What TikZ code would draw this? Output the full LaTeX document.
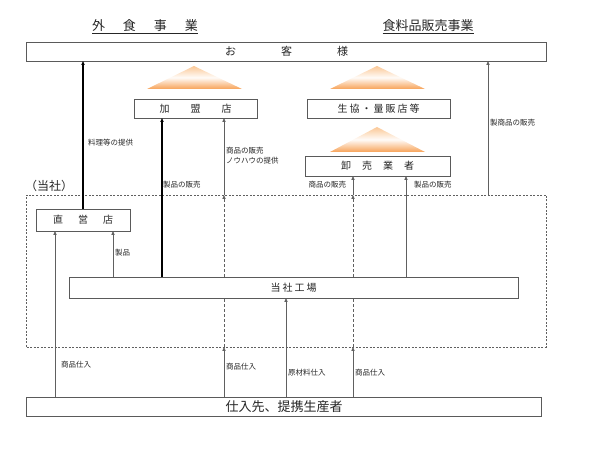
\documentclass[tikz,border=0pt]{standalone}
\usepackage{fontspec}
\setmainfont{Noto Sans CJK JP}
\usetikzlibrary{arrows.meta,shadings}
\definecolor{boxline}{HTML}{5A5A5A}
\definecolor{conn}{HTML}{606060}
\definecolor{tri}{HTML}{F7A257}
\definecolor{trilight}{HTML}{FBC896}
\begin{document}
\begin{tikzpicture}[x=1pt,y=-1pt,
  every node/.style={inner sep=0pt,outer sep=0pt,text=black!85},
  box/.style={draw=boxline,line width=0.9pt,fill=white,font=\fontsize{10}{12}\selectfont},
  lbl/.style={font=\fontsize{7.5}{10}\selectfont,anchor=west},
  tip/.style={-{Triangle[length=4pt,width=3.2pt]}},
  gline/.style={tip,draw=conn,line width=0.8pt},
  bline/.style={tip,draw=black,line width=1.2pt},
  dline/.style={tip,draw=conn,line width=0.8pt,dash pattern=on 3pt off 2pt},
  trishade/.style={top color=trilight,bottom color=tri,middle color=white!96!tri,draw=none}]
\useasboundingbox (0,0) rectangle (611,457);
% column coordinates
\coordinate (c1) at (55,0);
\coordinate (c2) at (113,0);
\coordinate (c3) at (162,0);
\coordinate (c4) at (224,0);
\coordinate (c5) at (286,0);
\coordinate (c6) at (353,0);
\coordinate (c7) at (406,0);
\coordinate (c8) at (488,0);
% titles
\node[font=\fontsize{13}{15}\selectfont] (t1) at (145,27) {\underline{外\hspace{18pt}食\hspace{18pt}事\hspace{18pt}業}};
\node[font=\fontsize{13}{15}\selectfont] (t2) at (428,27) {\underline{食料品販売事業}};
% company dotted region
\node[draw=conn,line width=0.8pt,dash pattern=on 2pt off 1.5pt,minimum width=519.5pt,minimum height=152pt] (tosha) at (286.25,271) {};
\node[font=\fontsize{12}{14}\selectfont,anchor=west] (toshalbl) at (25,186) {（当社）};
% triangles
\shade[trishade] (194,66) -- (242,89) -- (147,89) -- cycle;
\shade[trishade] (377,66) -- (425,89) -- (330,89) -- cycle;
\shade[trishade] (377,127) -- (425,152) -- (330,152) -- cycle;
% boxes
\node[box,minimum width=520pt,minimum height=19pt,font=\fontsize{11}{13}\selectfont] (okyaku) at (286.5,51.5) {お\hspace{45pt}客\hspace{45pt}様};
\node[box,minimum width=123pt,minimum height=19pt] (kamei) at (195.5,108.5) {加\hspace{21pt}盟\hspace{21pt}店};
\node[box,minimum width=143pt,minimum height=19pt] (seikyo) at (378.5,108.5) {生\hspace{2pt}協\hspace{2pt}・\hspace{2pt}量\hspace{2pt}販\hspace{2pt}店\hspace{2pt}等};
\node[box,minimum width=145pt,minimum height=20pt] (oroshi) at (377.5,166) {卸\hspace{11pt}売\hspace{11pt}業\hspace{11pt}者};
\node[box,minimum width=94pt,minimum height=22pt] (chokuei) at (83,220) {直\hspace{15pt}営\hspace{15pt}店};
% dashed connectors (drawn before factory box so it covers them)
\draw[dline] (tosha.south -| c4) -- (tosha.north -| c4);
\draw[dline] (tosha.south -| c6) -- (tosha.north -| c6);
\node[box,minimum width=449pt,minimum height=21pt] (kojo) at (293.5,287.5) {当\hspace{2pt}社\hspace{2pt}工\hspace{2pt}場};
\node[box,minimum width=515pt,minimum height=19pt,font=\fontsize{13}{15}\selectfont] (shiire) at (284,406.5) {仕入先、提携生産者};
% upward connectors
\draw[bline] (chokuei.north) -- (chokuei.north |- okyaku.south);
\draw[gline] (shiire.north -| c1) -- (chokuei.south -| c1);
\draw[gline] (kojo.north -| c2) -- (chokuei.south -| c2);
\draw[bline] (kojo.north -| c3) -- (kamei.south -| c3);
\draw[gline] (shiire.north -| c4) -- (tosha.south -| c4);
\draw[gline] (tosha.north -| c4) -- (kamei.south -| c4);
\draw[gline] (shiire.north -| c5) -- (kojo.south -| c5);
\draw[gline] (shiire.north -| c6) -- (tosha.south -| c6);
\draw[gline] (tosha.north -| c6) -- (oroshi.south -| c6);
\draw[gline] (kojo.north -| c7) -- (oroshi.south -| c7);
\draw[gline] (tosha.north -| c8) -- (okyaku.south -| c8);
% labels
\node[lbl] (l1) at (88,143) {料理等の提供};
\node[lbl,align=left,anchor=north west] (l2) at (226,147) {商品の販売\\ノウハウの提供};
\node[lbl] (l3) at (163,185) {製品の販売};
\node[lbl,anchor=east] (l4) at (346,185) {商品の販売};
\node[lbl] (l5) at (414,185) {製品の販売};
\node[lbl] (l6) at (490,123) {製商品の販売};
\node[lbl] (l7) at (115,253) {製品};
\node[lbl] (l8) at (61,365) {商品仕入};
\node[lbl] (l9) at (226,367) {商品仕入};
\node[lbl] (l10) at (288,373) {原材料仕入};
\node[lbl] (l11) at (355,373) {商品仕入};
\end{tikzpicture}
\end{document}
